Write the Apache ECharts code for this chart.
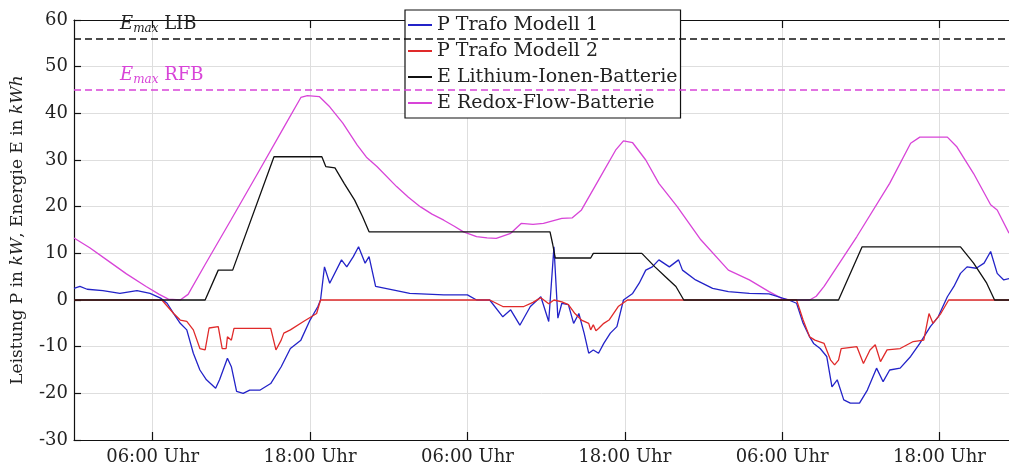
<!DOCTYPE html>
<html>
<head>
<meta charset="utf-8">
<script src="https://cdn.jsdelivr.net/npm/echarts@6/dist/echarts.min.js"></script>
<style>
html,body{margin:0;padding:0;background:#fff;}
#chart{width:1009px;height:472px;}
</style>
</head>
<body>
<div id="chart"></div>
<script>
// ---- data (hours since start, value) ----
const tickHours = [6, 18, 30, 42, 54, 66];
const tickLabels = ['06:00 Uhr', '18:00 Uhr', '06:00 Uhr', '18:00 Uhr', '06:00 Uhr', '18:00 Uhr'];
const xMax = 71.3;
const eMaxLIB = 56;
const eMaxRFB = 45;

const pTrafo1 = [[0,2.5],[0.45,2.9],[1.0,2.3],[2.2,2.0],[3.5,1.4],[4.8,2.0],[5.8,1.4],[6.6,0.4],[7.1,-0.7],[7.6,-2.9],[8.1,-5.0],[8.6,-6.4],[9.1,-11.4],[9.6,-15.0],[10.1,-17.1],[10.8,-18.9],[11.1,-17.1],[11.7,-12.5],[12.0,-14.3],[12.4,-19.6],[12.9,-20.0],[13.4,-19.3],[14.2,-19.3],[15.0,-17.9],[15.8,-14.3],[16.5,-10.4],[17.3,-8.6],[18.0,-4.3],[18.6,-1.4],[18.8,0],[19.1,7.1],[19.5,3.6],[20.4,8.6],[20.8,7.1],[21.3,9.3],[21.7,11.4],[22.2,7.9],[22.5,9.3],[23.0,2.9],[24.4,2.1],[25.6,1.4],[28.2,1.1],[30.0,1.1],[30.7,0],[31.7,0],[32.7,-3.6],[33.3,-2.1],[34.0,-5.4],[34.8,-1.4],[35.6,0.7],[36.2,-4.6],[36.6,11.4],[36.9,-3.9],[37.2,-0.7],[37.7,-1.0],[38.1,-5.0],[38.5,-2.9],[38.9,-7.1],[39.25,-11.4],[39.6,-10.7],[40.0,-11.4],[40.4,-9.3],[40.9,-7.1],[41.4,-5.7],[41.9,0],[42.6,1.4],[43.1,3.6],[43.6,6.4],[44.1,7.1],[44.6,8.6],[45.4,7.1],[46.1,8.6],[46.4,6.4],[47.4,4.3],[48.7,2.5],[49.9,1.8],[51.5,1.4],[53.0,1.3],[54.5,0],[55.1,-0.7],[55.6,-5.0],[56.1,-7.9],[56.4,-9.3],[56.9,-10.4],[57.4,-12.1],[57.8,-18.6],[58.2,-17.1],[58.7,-21.4],[59.2,-22.1],[59.9,-22.1],[60.5,-19.3],[61.2,-14.6],[61.7,-17.5],[62.2,-15.0],[63.0,-14.6],[63.8,-12.1],[64.5,-9.3],[65.3,-5.7],[65.9,-3.6],[66.6,0.7],[67.1,2.9],[67.6,5.7],[68.1,7.1],[68.8,6.8],[69.4,7.9],[69.9,10.4],[70.4,5.7],[70.9,4.3],[71.3,4.6]];

const pTrafo2 = [[0,0],[6.7,0],[7.6,-2.9],[8.1,-4.3],[8.6,-4.6],[9.1,-6.4],[9.6,-10.4],[10.0,-10.7],[10.3,-6.0],[11.0,-5.7],[11.3,-10.4],[11.6,-10.4],[11.7,-7.9],[12.0,-8.6],[12.2,-6.1],[15.0,-6.1],[15.4,-10.7],[15.8,-8.6],[16.0,-7.1],[16.5,-6.4],[17.5,-4.6],[18.5,-2.9],[18.8,0],[31.7,0],[32.7,-1.4],[34.3,-1.4],[35.0,-0.5],[35.6,0.5],[36.2,-0.8],[36.6,0],[37.2,-0.4],[37.7,-1.0],[38.2,-2.9],[38.7,-4.3],[39.25,-5.0],[39.4,-6.4],[39.6,-5.3],[39.8,-6.6],[40.0,-6.1],[40.4,-5.0],[40.8,-4.3],[41.5,-1.4],[42.2,0],[55.1,0],[55.6,-4.3],[56.1,-7.9],[56.5,-8.6],[57.2,-9.3],[57.7,-12.9],[58.0,-13.9],[58.3,-12.9],[58.5,-10.4],[59.7,-10.0],[60.2,-13.6],[60.7,-10.7],[61.1,-9.6],[61.5,-13.2],[62.0,-10.7],[63.0,-10.4],[64.0,-8.9],[64.8,-8.6],[65.2,-2.9],[65.5,-5.0],[66.1,-2.9],[66.7,0],[71.3,0]];

const eLIB = [[0,0],[10.0,0],[11.0,6.4],[12.1,6.4],[15.25,30.7],[18.9,30.7],[19.2,28.6],[19.9,28.3],[20.6,25.0],[21.4,21.4],[22.0,17.9],[22.5,14.6],[36.3,14.6],[36.5,12.0],[36.7,9.0],[39.4,9.0],[39.6,10.0],[43.3,10.0],[44.3,7.1],[45.1,5.0],[45.9,2.9],[46.5,0],[58.3,0],[60.1,11.4],[67.6,11.4],[68.6,7.9],[69.6,3.6],[70.2,0],[71.3,0]];

const eRFB = [[0,13.3],[1.2,11.2],[2.5,8.6],[4,5.6],[5.5,2.9],[6.5,1.2],[7.2,0.2],[8.1,0],[8.7,1.2],[10,7.6],[12,17.3],[14,27.1],[16,37.0],[17.3,43.4],[17.8,43.8],[18.7,43.6],[19.5,41.4],[20.5,37.9],[21.6,33.2],[22.3,30.6],[23.1,28.6],[24.6,24.3],[25.5,22.0],[26.4,20.0],[27.3,18.4],[28.2,17.1],[29.0,15.8],[29.7,14.6],[30.7,13.6],[31.5,13.3],[32.2,13.2],[33.3,14.3],[34.1,16.4],[35.0,16.2],[35.8,16.4],[37.2,17.5],[38.0,17.6],[38.7,19.3],[40.0,25.7],[41.3,32.1],[41.9,34.1],[42.6,33.7],[43.6,30.0],[44.6,25.0],[46.0,20.0],[47.8,12.9],[49.9,6.4],[51.5,4.3],[53.0,1.8],[54.0,0.3],[54.6,0],[56.1,0],[56.6,0.8],[57.2,2.9],[59.7,13.6],[62.2,25.0],[63.8,33.6],[64.5,34.9],[66.6,34.9],[67.3,32.9],[68.6,27.1],[69.9,20.4],[70.4,19.3],[71.3,14.3]];

// ---- chart ----
const FONT = 'DejaVu Serif';
const chart = echarts.init(document.getElementById('chart'), null, {renderer: 'canvas'});

const subRich = (color) => ({
  e: {fontFamily: FONT, fontStyle: 'italic', fontSize: 18, color: color},
  s: {fontFamily: FONT, fontStyle: 'italic', fontSize: 12, color: color, padding: [9, 0, 0, 0]},
  t: {fontFamily: FONT, fontSize: 18, color: color}
});

const option = {
  animation: false,
  backgroundColor: '#fff',
  textStyle: {fontFamily: FONT},
  grid: {left: 74, top: 20, right: 0, bottom: 32, containLabel: false},
  legend: {
    orient: 'vertical',
    left: 405, top: 10,
    itemWidth: 24, itemHeight: 14, itemGap: 4,
    padding: [4, 3, 4, 2],
    borderColor: '#111', borderWidth: 1.2,
    backgroundColor: '#fff',
    itemStyle: {opacity: 0},
    textStyle: {fontFamily: FONT, fontSize: 19, color: '#222', lineHeight: 22},
    data: ['P Trafo Modell 1', 'P Trafo Modell 2', 'E Lithium-Ionen-Batterie', 'E Redox-Flow-Batterie']
  },
  xAxis: [{
    type: 'value', min: 0, max: xMax, position: 'bottom',
    axisLine: {show: true, onZero: false, lineStyle: {color: '#111', width: 1.2}},
    axisTick: {show: true, inside: true, length: 8, customValues: tickHours, lineStyle: {color: '#111', width: 1.2}},
    axisLabel: {
      customValues: tickHours, margin: 8,
      fontFamily: FONT, fontSize: 18, color: '#222',
      formatter: (v) => tickLabels[tickHours.indexOf(v)]
    },
    splitLine: {show: true, lineStyle: {color: '#dedede', width: 1}}
  }, {
    type: 'value', min: 0, max: xMax, position: 'top',
    axisLine: {show: true, onZero: false, lineStyle: {color: '#111', width: 1.2}},
    axisTick: {show: true, inside: true, length: 8, customValues: tickHours, lineStyle: {color: '#111', width: 1.2}},
    axisLabel: {show: false},
    splitLine: {show: false}
  }],
  yAxis: {
    type: 'value', min: -30, max: 60, interval: 10,
    axisLine: {show: true, onZero: false, lineStyle: {color: '#111', width: 1.2}},
    axisTick: {show: true, inside: true, length: 7, lineStyle: {color: '#111', width: 1.2}},
    axisLabel: {fontFamily: FONT, fontSize: 18, color: '#222', margin: 6},
    splitLine: {show: true, lineStyle: {color: '#dedede', width: 1}},
    name: '{r|Leistung P in }{i|kW}{r|, Energie E in }{i|kWh}',
    nameLocation: 'middle', nameRotate: 90, nameGap: 48,
    nameTextStyle: {
      rich: {
        r: {fontFamily: FONT, fontSize: 17, color: '#222'},
        i: {fontFamily: FONT, fontSize: 17, fontStyle: 'italic', color: '#222'}
      }
    }
  },
  series: [{
    name: 'P Trafo Modell 1', type: 'line', data: pTrafo1, symbol: 'none',
    lineStyle: {color: '#2323c8', width: 1.3}, itemStyle: {color: '#2323c8'}, z: 3
  }, {
    name: 'P Trafo Modell 2', type: 'line', data: pTrafo2, symbol: 'none',
    lineStyle: {color: '#e02a2a', width: 1.3}, itemStyle: {color: '#e02a2a'}, z: 4
  }, {
    name: 'E Lithium-Ionen-Batterie', type: 'line', data: eLIB, symbol: 'none',
    lineStyle: {color: '#111', width: 1.3}, itemStyle: {color: '#111'}, z: 5,
    markLine: {
      silent: true, symbol: 'none',
      lineStyle: {color: '#111', type: [7, 4], width: 1.6},
      label: {
        position: 'insideStartTop', distance: [46, 4],
        formatter: '{e|E}{s|max}{t| LIB}', rich: subRich('#222')
      },
      data: [{yAxis: eMaxLIB}]
    }
  }, {
    name: 'E Redox-Flow-Batterie', type: 'line', data: eRFB, symbol: 'none',
    lineStyle: {color: '#d844d8', width: 1.3}, itemStyle: {color: '#d844d8'}, z: 2,
    markLine: {
      silent: true, symbol: 'none',
      lineStyle: {color: '#d844d8', type: [7, 4], width: 1.6},
      label: {
        position: 'insideStartTop', distance: [46, 4],
        formatter: '{e|E}{s|max}{t| RFB}', rich: subRich('#d844d8')
      },
      data: [{yAxis: eMaxRFB}]
    }
  }]
};
chart.setOption(option);
</script>
</body>
</html>
